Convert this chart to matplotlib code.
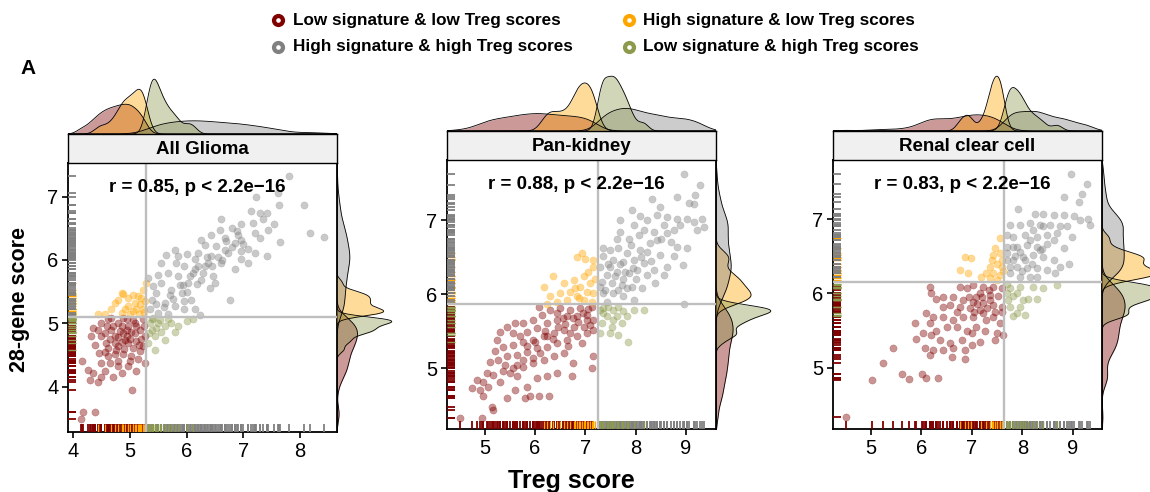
import numpy as np
import matplotlib
matplotlib.use("Agg")
import matplotlib.pyplot as plt

plt.rcParams['font.family'] = ['Liberation Sans', 'DejaVu Sans']

# ---------------- data ----------------
GROUP_LABELS = ["Low signature & low Treg scores", "High signature & low Treg scores",
                "High signature & high Treg scores", "Low signature & high Treg scores"]
GROUP_COLORS = ["#800000", "#FFA500", "#808080", "#8B9A4B"]
PANEL_TITLES = ["All Glioma", "Pan-kidney", "Renal clear cell"]
R_VALUES = ["0.85", "0.88", "0.83"]
P_TEXT = "p < 2.2e\u221216"
CUT_X = [5.28, 7.25, 7.64]     # Treg-score split
CUT_Y = [5.10, 5.865, 6.15]    # 28-gene-score split
X_TICKS = [[4, 5, 6, 7, 8], [5, 6, 7, 8, 9], [5, 6, 7, 8, 9]]
Y_TICKS = [[4, 5, 6, 7], [5, 6, 7], [5, 6, 7]]

# All Glioma
glioma_ll = [(4.35,4.92),(4.32,4.80),(4.15,4.41),(4.26,4.27),(4.29,4.11),(4.44,4.08),(4.35,4.22),(4.49,4.37),
             (4.55,4.24),(4.46,4.53),(4.38,4.66),(4.58,4.69),(4.67,4.90),(4.79,5.01),(4.94,5.06),(5.08,5.01),
             (5.23,5.06),(4.61,5.06),(4.49,5.01),(4.73,4.80),(4.88,4.85),(5.02,4.87),(5.17,4.90),(5.26,4.80),
             (4.61,4.61),(4.79,4.64),(4.96,4.69),(5.11,4.72),(5.23,4.64),(4.73,4.51),(4.88,4.51),(5.02,4.48),
             (5.17,4.56),(5.26,4.37),(4.96,4.32),(4.79,4.32),(4.64,4.37),(5.11,4.24),(4.85,4.22),(5.03,3.95),
             (4.70,4.16),(4.17,3.60),(4.39,3.60),(4.13,3.49),(4.55,4.85),(4.67,5.09),(4.85,4.95),(4.96,4.95),
             (5.08,4.85),(4.73,4.69),(4.91,4.74),(5.05,4.61),(4.49,4.80),(4.61,4.48),(4.49,4.16),(5.14,4.43),
             (4.44,4.90),(4.79,4.40),(4.88,5.08),(4.70,4.95),(4.82,4.88),(4.95,4.80),(5.10,4.95),(5.20,4.75),
             (4.65,4.75),(4.78,4.78),(4.90,4.60),(5.00,4.75),(5.15,4.65),(4.85,4.70),(5.05,5.05),(4.60,4.95),
             (4.95,4.90),(5.25,4.95),(4.75,4.58),(5.00,4.40),(4.55,4.55)]
glioma_hl = [(5.29,5.64),(4.85,5.48),(4.79,5.37),(4.96,5.40),(5.05,5.45),(5.14,5.43),(5.23,5.53),(5.08,5.32),
             (5.17,5.30),(5.26,5.35),(4.96,5.27),(4.67,5.22),(4.55,5.14),(4.85,5.16),(5.05,5.19),(5.23,5.22),
             (4.44,5.14),(5.11,5.22),(4.73,5.32),(5.20,5.40),(4.88,5.47),(5.00,5.15),(5.15,5.15),(4.92,5.22),
             (5.25,5.18)]
glioma_hh = [(7.80,7.33),(7.61,7.05),(7.23,6.99),(7.62,6.87),(8.06,6.87),(7.14,6.78),(7.29,6.74),(7.41,6.74),
             (7.35,6.64),(6.61,6.65),(7.54,6.57),(8.18,6.43),(8.42,6.36),(7.64,6.29),(7.17,6.58),(6.96,6.56),
             (6.79,6.51),(6.91,6.40),(6.58,6.48),(6.43,6.40),(6.67,6.35),(6.85,6.27),(7.08,6.17),(6.96,6.14),
             (7.42,6.06),(6.73,6.11),(6.52,6.22),(6.32,6.24),(6.20,6.11),(6.43,6.06),(6.61,5.95),(6.96,6.01),
             (6.85,5.85),(6.46,5.74),(6.32,5.90),(6.14,6.01),(6.00,6.09),(5.85,6.06),(5.63,6.07),(5.81,5.95),
             (5.96,5.90),(6.11,5.80),(6.26,5.69),(6.41,5.56),(6.76,5.37),(6.49,5.64),(6.02,5.64),(5.85,5.74),
             (5.67,5.80),(5.49,5.77),(5.55,5.64),(5.73,5.53),(5.91,5.48),(6.08,5.37),(6.23,5.13),(5.46,5.48),
             (5.38,5.37),(5.61,5.32),(5.79,5.27),(5.96,5.22),(6.14,5.22),(5.35,5.22),(5.49,5.16),(5.67,5.14),
             (5.41,5.59),(5.32,5.72),(6.38,5.95),(6.67,6.16),(7.20,6.43),(7.44,6.48),(6.96,6.32),(6.26,6.32),
             (6.14,5.85),(5.93,5.61),(5.55,5.95),(5.79,6.16),(7.08,5.95),(7.20,6.11),(5.70,5.45),(5.88,5.60),
             (6.05,5.75),(6.20,5.90),(6.35,6.05),(5.60,5.25),(5.75,5.38),(6.00,5.50),(6.18,5.62),(5.45,5.30),
             (6.55,6.05),(6.70,6.30),(6.88,6.45),(6.28,5.80),(5.95,5.35),(6.45,5.90),(6.62,6.00),(6.80,6.20),
             (7.00,6.25),(7.30,6.35)]
glioma_lh = [(5.38,5.06),(5.49,5.01),(5.61,4.95),(5.38,4.90),(5.44,4.80),(5.32,4.69),(5.61,4.74),(5.79,4.87),
             (5.85,4.95),(6.00,5.03),(6.11,5.06),(5.55,4.87),(5.67,5.06),(5.44,4.58),(5.35,5.01),(5.46,4.93),
             (5.73,5.01),(5.41,5.08),(5.33,4.85),(5.52,5.05)]

# Pan-kidney
kidney_ll = [(7.13,5.83),(6.90,5.81),(6.70,5.79),(6.50,5.81),(6.30,5.79),(6.07,5.83),(6.14,5.72),(5.97,5.65),
             (5.77,5.61),(5.60,5.61),(5.44,5.56),(5.31,5.49),(5.57,5.47),(5.84,5.49),(6.04,5.54),(6.24,5.61),
             (6.43,5.65),(6.63,5.70),(6.83,5.70),(7.03,5.72),(7.16,5.65),(6.97,5.56),(6.77,5.56),(6.57,5.52),
             (6.37,5.47),(6.17,5.43),(5.97,5.38),(5.77,5.36),(5.57,5.31),(5.37,5.29),(5.21,5.23),(5.27,5.11),
             (5.11,5.09),(5.44,5.16),(5.64,5.18),(5.84,5.22),(6.04,5.27),(6.24,5.29),(6.43,5.34),(6.63,5.38),
             (6.83,5.43),(7.03,5.47),(7.16,5.52),(6.93,5.34),(6.57,5.20),(6.37,5.16),(6.17,5.11),(5.97,5.07),
             (5.77,5.02),(5.57,5.00),(5.37,4.96),(5.17,4.91),(5.04,4.93),(4.97,4.82),(5.07,4.75),(4.74,4.73),
             (4.97,4.62),(5.14,4.48),(5.17,4.44),(5.44,4.60),(5.60,4.71),(5.80,4.60),(5.90,4.62),(6.07,4.62),
             (6.27,4.62),(5.84,4.75),(6.04,4.87),(6.24,4.89),(6.43,4.93),(6.73,4.89),(7.13,5.00),(7.16,5.16),
             (6.76,5.07),(4.51,4.33),(4.94,4.33),(5.64,4.89),(5.31,4.82),(5.50,4.93),(5.77,5.11),(5.97,5.14),
             (6.24,5.43),(6.70,5.47),(7.03,5.65),(6.43,5.74),(5.24,5.38),(5.70,5.43),(4.91,4.71),(4.84,4.84),
             (6.60,5.60),(6.85,5.62),(7.05,5.80),(6.45,5.55),(6.20,5.50),(6.95,5.75),(6.75,5.68),(7.10,5.58),
             (6.55,5.68),(6.35,5.40),(6.00,5.35),(5.85,5.30),(6.10,5.20),(6.65,5.30),(5.40,5.05),(5.65,5.05)]
kidney_hl = [(6.93,6.56),(6.83,6.50),(7.00,6.48),(7.15,6.46),(7.16,6.37),(6.35,6.25),(6.17,6.09),(6.57,6.15),
             (6.77,6.19),(6.97,6.24),(7.10,6.15),(6.90,6.10),(6.70,6.03),(6.50,6.01),(6.30,5.97),(7.03,6.03),
             (7.16,6.01),(6.83,5.97),(6.63,5.92),(6.43,5.90),(6.97,5.92),(6.24,5.87),(7.13,5.90),(6.80,6.08),
             (7.05,6.30),(6.88,5.95),(7.20,6.20)]
kidney_hh = [(8.97,7.62),(9.29,7.47),(8.82,7.31),(9.19,7.34),(9.07,7.23),(9.16,7.22),(8.33,7.28),(7.93,7.13),
             (8.43,7.07),(8.63,7.04),(8.83,7.02),(9.02,7.01),(9.32,7.01),(9.36,6.91),(9.16,6.98),(8.89,6.93),
             (8.56,6.93),(8.23,7.00),(8.16,6.86),(7.96,6.93),(7.70,6.84),(7.63,6.75),(7.86,6.75),(8.06,6.80),
             (8.36,6.84),(8.63,6.82),(8.83,6.64),(9.02,6.62),(8.94,6.39),(8.63,6.37),(8.49,6.53),(8.29,6.69),
             (8.09,6.60),(7.90,6.66),(7.66,6.62),(7.50,6.60),(7.36,6.51),(7.30,6.37),(7.56,6.46),(7.76,6.44),
             (7.96,6.46),(8.16,6.42),(8.36,6.33),(8.56,6.26),(8.23,6.26),(8.03,6.33),(7.86,6.28),(7.63,6.30),
             (7.43,6.26),(7.33,6.17),(7.53,6.15),(7.73,6.12),(7.93,6.10),(8.13,6.08),(8.39,6.15),(7.36,6.01),
             (7.56,6.01),(7.76,5.97),(7.96,5.92),(7.43,5.90),(8.97,5.87),(8.23,6.57),(8.43,6.73),(8.09,7.05),
             (8.49,7.18),(8.76,6.87),(7.36,6.62),(7.83,6.55),(7.50,6.37),(7.76,6.21),(8.76,6.51),(7.30,6.10),
             (7.70,7.00),(9.22,6.87),(7.83,6.08),(7.60,6.25),(7.95,6.35),(8.10,6.50),(7.70,6.40),(8.30,6.45),
             (7.45,6.40),(7.80,6.30),(8.00,6.20),(7.40,6.05),(7.65,6.05),(8.50,6.75),(8.70,6.70)]
kidney_lh = [(7.36,5.81),(7.56,5.79),(7.76,5.77),(7.96,5.79),(8.16,5.79),(7.43,5.70),(7.63,5.70),(7.83,5.70),
             (7.33,5.61),(7.53,5.56),(7.73,5.61),(7.50,5.47),(7.66,5.45),(7.84,5.36),(7.30,5.47),(7.36,5.74),
             (7.56,5.65),(7.45,5.82),(7.65,5.83),(7.30,5.78)]

# Renal clear cell
renal_ll = [(6.17,6.09),(6.20,6.01),(6.43,5.95),(6.76,6.09),(6.90,6.07),(7.03,6.11),(7.23,6.09),(7.43,6.09),
            (7.59,6.07),(7.16,6.00),(7.36,5.98),(7.52,5.96),(6.83,5.91),(7.03,5.89),(7.23,5.87),(7.43,5.84),
            (7.59,5.82),(7.16,5.78),(6.96,5.80),(6.76,5.82),(6.56,5.84),(6.43,5.82),(6.23,5.68),(6.10,5.73),
            (6.17,5.60),(5.87,5.60),(6.43,5.68),(6.63,5.64),(6.83,5.68),(7.03,5.68),(7.23,5.73),(7.43,5.68),
            (7.59,5.75),(7.49,5.46),(7.26,5.50),(7.09,5.55),(6.90,5.50),(6.70,5.55),(6.50,5.55),(6.30,5.50),
            (6.20,5.44),(6.37,5.37),(6.56,5.33),(6.80,5.37),(7.00,5.30),(7.16,5.35),(7.46,5.37),(7.62,5.44),
            (6.86,5.24),(6.63,5.26),(6.43,5.24),(6.23,5.24),(6.17,5.17),(6.07,5.26),(5.44,5.27),(5.24,5.06),
            (5.62,4.91),(5.76,4.85),(6.02,4.92),(6.10,4.86),(6.33,4.86),(5.03,4.83),(6.03,5.46),(5.90,5.39),
            (6.86,5.12),(6.60,5.14),(7.00,5.46),(7.29,5.64),(6.63,5.95),(7.36,5.91),(7.56,5.60),(6.30,5.93),
            (7.09,5.95),(7.10,5.85),(7.30,5.80),(7.20,5.95),(6.95,5.95),(7.45,5.75),(7.05,5.75),(6.70,5.75),
            (7.35,6.05),(4.50,4.33)]
renal_hl = [(7.56,6.74),(7.46,6.61),(7.43,6.52),(7.56,6.54),(6.86,6.49),(6.99,6.48),(6.76,6.31),(6.93,6.27),
            (7.36,6.36),(7.49,6.40),(7.59,6.36),(7.43,6.27),(7.56,6.25),(7.36,6.20),(7.19,6.22),(7.59,6.45),
            (7.29,6.27),(7.49,6.18),(7.62,6.30),(7.40,6.45)]
renal_hh = [(8.96,7.61),(9.28,7.47),(8.82,7.30),(9.18,7.34),(9.12,7.23),(7.92,7.13),(8.25,7.07),(8.42,7.07),
            (8.62,7.05),(8.82,7.05),(9.02,7.04),(9.31,7.00),(9.35,6.92),(9.15,6.99),(7.76,6.92),(7.96,6.92),
            (8.15,6.94),(8.35,6.92),(8.55,6.92),(8.75,6.90),(7.82,6.76),(8.06,6.78),(8.29,6.76),(8.49,6.78),
            (8.69,6.81),(8.98,6.76),(7.69,6.63),(7.89,6.63),(8.09,6.65),(8.29,6.63),(8.49,6.67),(8.82,6.61),
            (8.92,6.40),(8.62,6.45),(8.42,6.49),(8.22,6.51),(8.02,6.49),(7.82,6.45),(7.69,6.45),(7.89,6.36),
            (8.09,6.34),(8.29,6.34),(8.49,6.31),(7.76,6.27),(7.96,6.22),(8.15,6.22),(8.29,6.22),(8.65,6.27),
            (7.69,6.78),(8.22,6.85),(8.62,6.72),(8.88,6.90),(8.15,6.72),(8.35,6.58),(7.69,6.54),(8.75,6.36),
            (8.06,6.45),(7.82,6.63),(8.42,6.90),(7.95,6.55),(8.20,6.40),(7.75,6.35),(8.00,6.30),(8.40,6.60),
            (7.85,6.50)]
renal_lh = [(7.76,6.07),(7.96,6.09),(8.22,6.09),(8.42,6.07),(8.69,6.11),(7.82,5.96),(8.02,5.91),(7.72,5.91),
            (7.76,5.82),(7.96,5.82),(8.12,5.93),(8.29,5.93),(8.06,5.71),(7.89,5.73),(7.82,5.69),(7.69,6.00),
            (7.70,6.12),(7.90,6.00)]

PANEL_DATA = [[glioma_ll, glioma_hl, glioma_hh, glioma_lh],
              [kidney_ll, kidney_hl, kidney_hh, kidney_lh],
              [renal_ll, renal_hl, renal_hh, renal_lh]]

# ---------------- layout (pixels) ----------------
W, H = 1150, 492
XLIMS = [(3.906, 8.65), (4.25, 9.60), (4.25, 9.58)]
YLIMS = [(3.284, 7.53), (4.18, 7.81), (4.175, 7.794)]
SCATTER_BOX = [(68, 163, 337, 432), (447, 160, 716, 429), (833, 160, 1102, 429)]
MARG = 57
STRIP_H = 29
RUG_LW = [1.3, 0.9, 1.3, 1.0]


def rect(l, t, r, b):
    return [l / W, 1 - b / H, (r - l) / W, (b - t) / H]


def bw_nrd0(v):
    sd = np.std(v, ddof=1)
    iqr = np.subtract(*np.percentile(v, [75, 25]))
    lo = min(sd, iqr / 1.34) if iqr > 0 else sd
    return 0.9 * lo * len(v) ** -0.2


def kde(v, grid):
    v = np.asarray(v)
    bw = bw_nrd0(v) * 0.85
    z = (grid[:, None] - v[None, :]) / bw
    return np.exp(-0.5 * z ** 2).sum(axis=1) / (len(v) * bw * np.sqrt(2 * np.pi))


fig = plt.figure(figsize=(W / 100, H / 100), dpi=100)

for p in range(3):
    l, t, r, b = SCATTER_BOX[p]
    ax = fig.add_axes(rect(l, t, r, b))
    ax_top = fig.add_axes(rect(l, t - STRIP_H - MARG, r, t - STRIP_H))
    ax_strip = fig.add_axes(rect(l, t - STRIP_H, r, t))
    ax_right = fig.add_axes(rect(r, t, r + MARG, b))
    xl, yl = XLIMS[p], YLIMS[p]

    groups = PANEL_DATA[p]
    for g, pts in enumerate(groups):
        arr = np.array(pts)
        ax.scatter(arr[:, 0], arr[:, 1], s=27, color=GROUP_COLORS[g], alpha=0.42,
                   edgecolors=GROUP_COLORS[g], linewidths=0.3, zorder=2)
    for g, pts in enumerate(groups):
        arr = np.array(pts)
        ax.vlines(arr[:, 0], 0, 0.03, transform=ax.get_xaxis_transform(),
                  colors=GROUP_COLORS[g], linewidth=RUG_LW[g], zorder=3)
        ax.hlines(arr[:, 1], 0, 0.03, transform=ax.get_yaxis_transform(),
                  colors=GROUP_COLORS[g], linewidth=RUG_LW[g], zorder=3)
    ax.axvline(CUT_X[p], color="#BEBEBE", lw=1.7, zorder=4)
    ax.axhline(CUT_Y[p], color="#BEBEBE", lw=1.7, zorder=4)
    ax.set_xlim(*xl)
    ax.set_ylim(*yl)
    ax.set_xticks(X_TICKS[p])
    ax.set_yticks(Y_TICKS[p])
    ax.tick_params(direction='out', length=4, width=1.2, labelsize=14.5, colors='black', pad=3)
    for s in ax.spines.values():
        s.set_linewidth(1.3)
        s.set_color('black')
    ax.text(0.481, 0.91, f"r = {R_VALUES[p]}, {P_TEXT}", transform=ax.transAxes,
            ha='center', va='center', fontsize=13.5, fontweight='bold', zorder=5)

    # strip
    ax_strip.set_facecolor("#F0F0F0")
    ax_strip.set_xticks([])
    ax_strip.set_yticks([])
    for s in ax_strip.spines.values():
        s.set_linewidth(1.0)
        s.set_color('black')
    ax_strip.text(0.5, 0.45, PANEL_TITLES[p], transform=ax_strip.transAxes, ha='center',
                  va='center', fontsize=13.5, fontweight='bold')

    # marginal densities
    gx = np.linspace(xl[0], xl[1], 400)
    gy = np.linspace(yl[0], yl[1], 400)
    dx = [kde(np.array(pts)[:, 0], gx) for pts in groups]
    dy = [kde(np.array(pts)[:, 1], gy) for pts in groups]
    for g in range(4):
        ax_top.fill_between(gx, 0, dx[g], color=GROUP_COLORS[g], alpha=0.4, lw=0)
        ax_top.plot(gx, dx[g], color='black', lw=0.6)
        ax_right.fill_betweenx(gy, 0, dy[g], color=GROUP_COLORS[g], alpha=0.4, lw=0)
        ax_right.plot(dy[g], gy, color='black', lw=0.6)
    mx = max(d.max() for d in dx)
    my = max(d.max() for d in dy)
    ax_top.set_xlim(*xl)
    ax_top.set_ylim(0, mx * 1.04)
    ax_right.set_ylim(*yl)
    ax_right.set_xlim(0, my * 1.04)
    for a in (ax_top, ax_right):
        a.axis('off')

# overlay for legend and labels
ov = fig.add_axes([0, 0, 1, 1], zorder=10)
ov.set_xlim(0, W)
ov.set_ylim(H, 0)
ov.axis('off')
ov.patch.set_alpha(0)
LEG_POS = [(278, 20, 293), (629, 20, 643), (278, 47, 293), (629, 47, 643)]
for (mx_, my_, tx), lab, col in zip(LEG_POS, GROUP_LABELS, GROUP_COLORS):
    ov.plot(mx_, my_, 'o', ms=9.5, color=col, mec='none')
    ov.plot(mx_, my_, 'o', ms=3.3, color='white', mec='none')
    ov.text(tx, my_, lab, ha='left', va='center', fontsize=12.3, fontweight='bold')

ov.text(28, 68, "A", ha='center', va='center', fontsize=15, fontweight='bold')
ov.text(20, 300, "28-gene score", rotation=90, ha='center', va='center',
        fontsize=15.5, fontweight='bold')
ov.text(571, 481, "Treg score", ha='center', va='center', fontsize=18, fontweight='bold')

fig.savefig("out.png", dpi=100)
